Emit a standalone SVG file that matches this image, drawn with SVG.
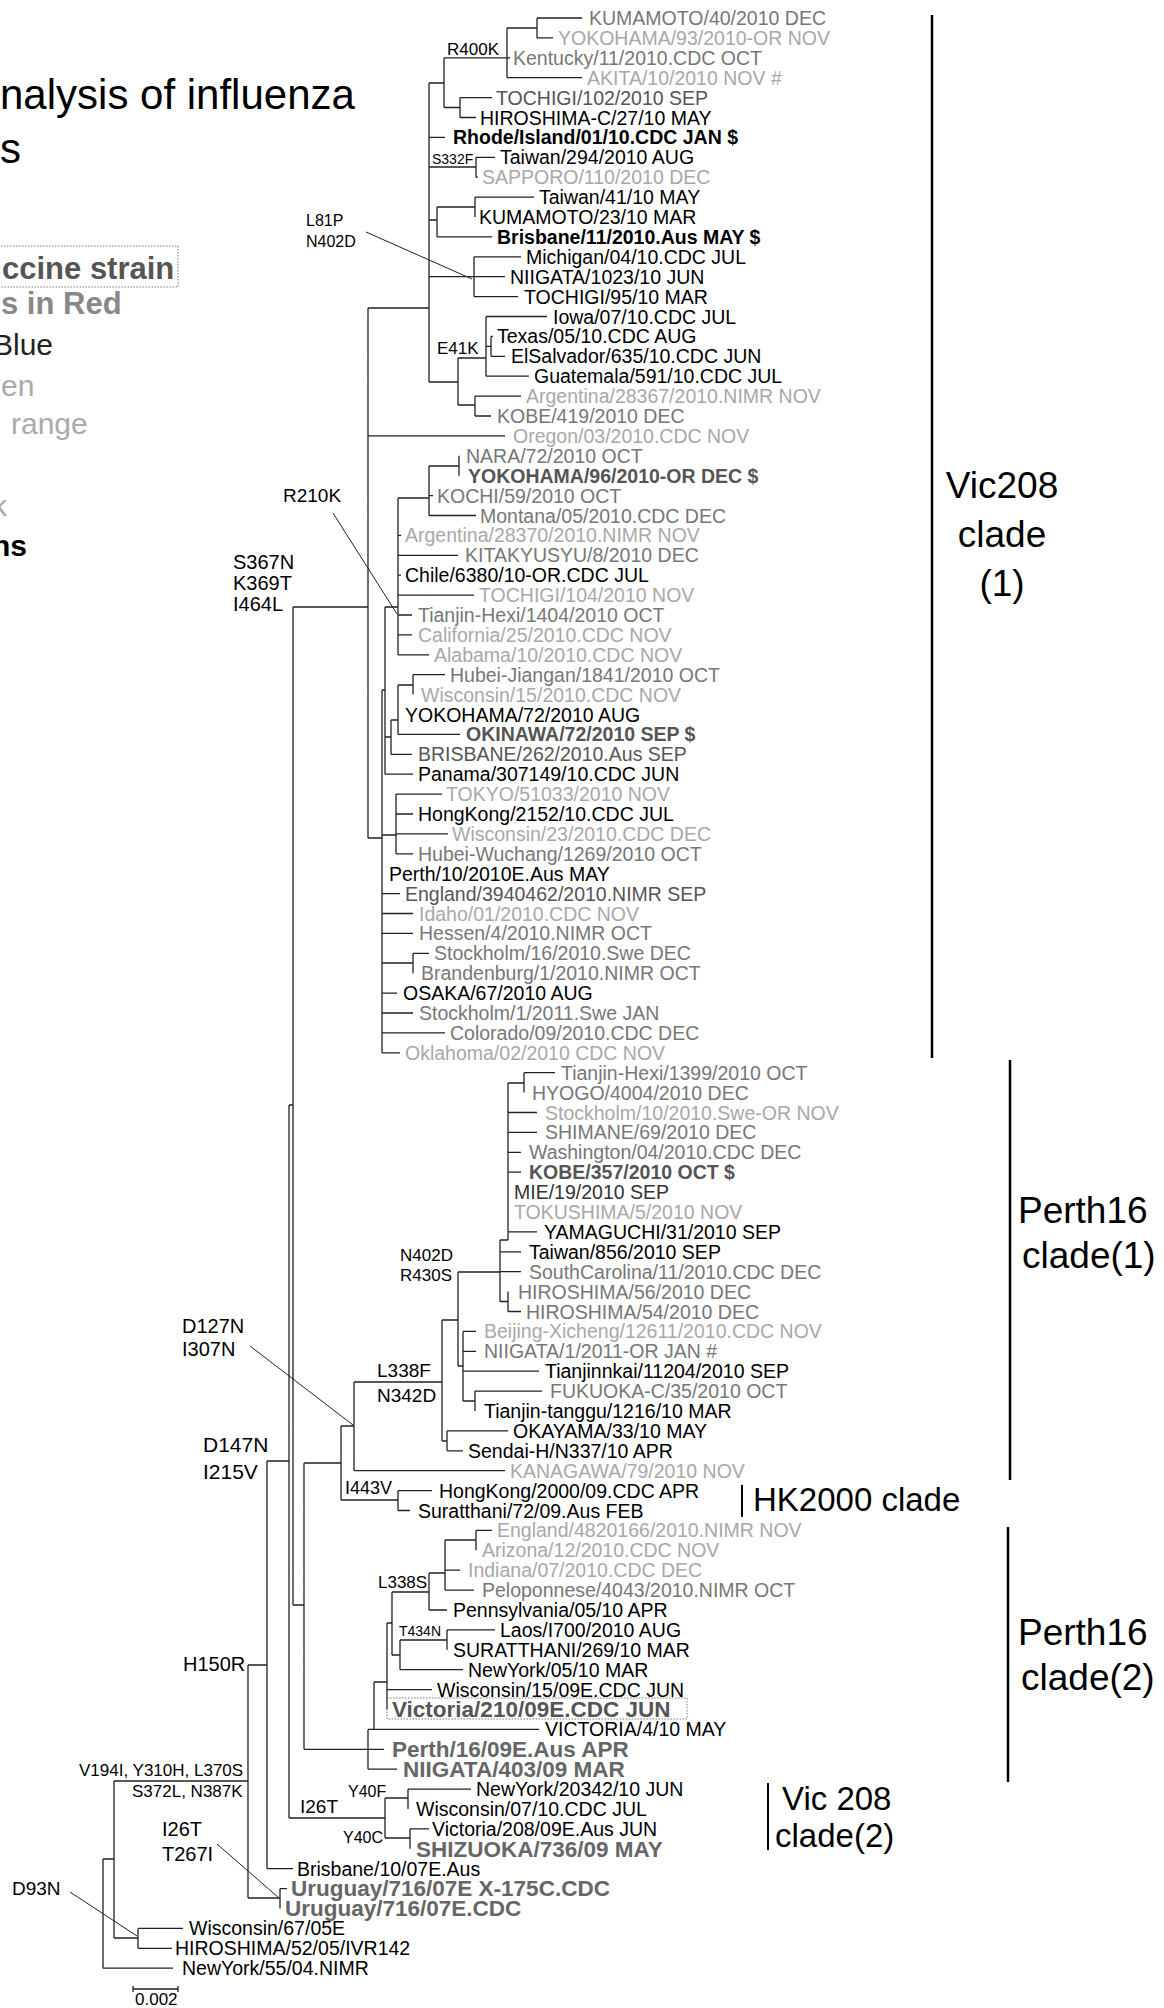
<svg xmlns="http://www.w3.org/2000/svg" width="1164" height="2008" viewBox="0 0 1164 2008">
<style>
text{font-family:"Liberation Sans",Arial,sans-serif}
.lf{font-size:19.5px;fill:#000}
.m{fill:#777}
.l{fill:#a8a8a8}
.d{fill:#555}
.bd{font-weight:bold}
.rb{font-size:22.5px;font-weight:bold;fill:#666}
.mu{fill:#000}
.cl{fill:#000;font-size:37px}
.br{fill:none;stroke:#222;stroke-width:1.3}
.ld{fill:none;stroke:#222;stroke-width:1}
.bar{stroke:#000;stroke-width:2.5}
.box{fill:none;stroke:#777;stroke-width:1;stroke-dasharray:1.5 1.5}
</style>
<rect width="1164" height="2008" fill="#fff"/>
<g id="title">
<text x="0" y="109" font-size="42">nalysis of influenza</text>
<text x="0" y="163" font-size="42">s</text>
</g>
<g id="legend">
<rect class="box" x="-2" y="246" width="180" height="41"/>
<text x="2" y="279" font-size="31" font-weight="bold" fill="#555">ccine strain</text>
<text x="1" y="314" font-size="31" font-weight="bold" fill="#888">s in Red</text>
<text x="-7" y="355" font-size="30" fill="#222">Blue</text>
<text x="1" y="396" font-size="30" fill="#aaa">en</text>
<text x="11" y="434" font-size="30" fill="#aaa">range</text>
<text x="-8" y="516" font-size="30" fill="#aaa">k</text>
<text x="-8" y="556" font-size="30" font-weight="bold" fill="#000">ns</text>
</g>
<g id="branches">
<path class="br" d="M537 18V37.9M537 18H582M537 37.9H553M507 28H537
M507 28V77.7M507 57.8H510M507 77.7H582M444 57.8H507
M460 97.6V117.5M460 97.6H492M460 117.5H476M444 107.5H460
M444 57.8V107.5M429 83H444
M429 83V382M429 137.4H445M429 167H476M429 220H437M429 276.7H474M429 382H458
M476 157.3V177.2M476 157.3H495M476 177.2H478
M475 197.1V217M475 197.1H534M437 207H475
M437 207V236.9M437 236.9H492
M474 256.8V296.6M474 256.8H521M474 276.7H505M474 296.6H518
M486 316.5V376.2M486 316.5H547M486 346.4H491M486 376.2H529M458 358H486
M491 336.4V356.3M491 336.4H493M491 356.3H505
M475 396.1V416M475 396.1H521M475 416H491M458 405H475
M458 358V405
M368 308V838M368 308H429M368 435.9H505M368 838H382
M293 607V1605M293 607H368M293 1605H304
M459 455.8V475.7M429 466H459
M429 466V515.5M429 495.6H433M429 515.5H476M398 498H429
M398 498V654.8M398 535.4H401M398 555.3H458M398 575.2H401M398 595.1H474M398 615H412M398 634.9H412M398 654.8H429M385 607H398
M385 607V774.2M385 737H391M385 774.2H413M382 690H385
M413 674.7V694.6M413 674.7H445M398 685H413
M398 685V734.4M398 734.4H460M391 720H398
M391 720V754.3M391 754.3H412
M382 690V1052.8M382 835H396M382 893.6H400M382 913.5H413M382 933.4H413M382 963H413M382 993.1H397M382 1013H413M382 1032.9H445M382 1052.8H400
M396 794.1V853.8M396 794.1H442M396 814H413M396 833.9H448M396 853.8H413
M413 953.3V973.2M413 953.3H429
M524 1072.7V1092.6M524 1072.7H555M508 1083H524
M508 1083V1240M508 1112.5H537M508 1132.4H537M508 1152.3H521M508 1172.2H521M508 1231.9H537M500 1240H508
M500 1240V1301.5M500 1251.8H521M500 1271.7H521M500 1301.5H508M458 1272H500
M508 1291.6V1311.5M508 1311.5H521
M458 1272V1366M442 1320H458
M463 1331.4V1401M463 1331.4H476M463 1351.3H476M463 1371.2H539M463 1401H475M458 1366H463
M475 1391.1V1411M475 1391.1H542
M447 1430.9V1450.8M447 1430.9H508M447 1450.8H463M442 1441H447
M442 1320V1441M354 1382H442
M354 1382V1470.7M354 1470.7H505M341 1426H354
M398 1490.6V1510.5M398 1490.6H432M398 1510.5H410M341 1500H398
M341 1426V1500M304 1463H341
M304 1463V1749.3M304 1749.3H384
M476 1530.4V1550.3M476 1530.4H492M445 1540H476
M445 1540V1590.1M445 1570.2H460M445 1590.1H474M429 1573H445
M429 1573V1610M429 1610H447M392 1592H429
M447 1629.9V1649.8M447 1629.9H495M400 1640H447
M400 1640V1669.7M400 1669.7H463M392 1655H400
M392 1592V1655M387 1623H392
M387 1623V1709.5M387 1689.6H432M374 1682H387
M374 1682V1729.4M368 1729.4H539
M368 1729.4V1769.2M368 1769.2H397
M408 1789.1V1809M408 1789.1H471M385 1798H408
M410 1828.9V1848.8M410 1828.9H429M385 1838H410
M385 1798V1838M289 1818H385
M289 1105V1818M289 1105H293
M267 1461V1868.7M267 1461H289M267 1868.7H293
M280 1888.6V1908.5M280 1888.6H287
M248 1665V1898M248 1665H267M248 1898H280
M138 1928.4V1948.3M138 1928.4H183M138 1948.3H172
M114 1781V1938M114 1781H248M114 1938H138
M103 1859V1968.2M103 1859H114M103 1968.2H173"/>
<path class="ld" d="M366 232L472 279M333 513L397 614M250 1346L353 1425M217 1844L279 1898M70 1892L137 1936"/>
<rect class="box" x="387" y="1698" width="300" height="21"/>
<path class="br" d="M133 1989H178M133 1986V1992M178 1986V1992"/>
</g>
<g id="mutations" class="mu">
<text x="447" y="55" font-size="17">R400K</text>
<text x="432" y="164" font-size="14">S332F</text>
<text x="306" y="226" font-size="16">L81P</text>
<text x="306" y="247" font-size="16">N402D</text>
<text x="437" y="354" font-size="17">E41K</text>
<text x="283" y="502" font-size="19">R210K</text>
<text x="233" y="569" font-size="20">S367N</text>
<text x="233" y="590" font-size="20">K369T</text>
<text x="233" y="611" font-size="20">I464L</text>
<text x="400" y="1261" font-size="17">N402D</text>
<text x="400" y="1281" font-size="17">R430S</text>
<text x="182" y="1333" font-size="20">D127N</text>
<text x="182" y="1356" font-size="20">I307N</text>
<text x="377" y="1377" font-size="19">L338F</text>
<text x="377" y="1402" font-size="19">N342D</text>
<text x="203" y="1452" font-size="21">D147N</text>
<text x="203" y="1479" font-size="21">I215V</text>
<text x="345" y="1494" font-size="18">I443V</text>
<text x="378" y="1588" font-size="17">L338S</text>
<text x="399" y="1636" font-size="14">T434N</text>
<text x="183" y="1671" font-size="20">H150R</text>
<text x="79" y="1776" font-size="17">V194I, Y310H, L370S</text>
<text x="132" y="1797" font-size="17">S372L, N387K</text>
<text x="348" y="1797" font-size="16">Y40F</text>
<text x="300" y="1813" font-size="19">I26T</text>
<text x="343" y="1843" font-size="16">Y40C</text>
<text x="162" y="1836" font-size="20">I26T</text>
<text x="162" y="1861" font-size="20">T267I</text>
<text x="12" y="1895" font-size="19">D93N</text>
<text x="135" y="2005" font-size="17">0.002</text>
</g>
<g id="clades">
<line class="bar" x1="932" y1="15" x2="932" y2="1058"/>
<text class="cl" x="1002" y="498" text-anchor="middle">Vic208</text>
<text class="cl" x="1002" y="547" text-anchor="middle">clade</text>
<text class="cl" x="1002" y="596" text-anchor="middle">(1)</text>
<line class="bar" x1="1010" y1="1060" x2="1010" y2="1480"/>
<text class="cl" x="1018" y="1223">Perth16</text>
<text class="cl" x="1022" y="1268">clade(1)</text>
<line class="bar" x1="742" y1="1485" x2="742" y2="1517" style="stroke-width:2"/>
<text x="753" y="1511" font-size="33">HK2000 clade</text>
<line class="bar" x1="1008" y1="1527" x2="1008" y2="1782"/>
<text class="cl" x="1018" y="1645">Perth16</text>
<text class="cl" x="1021" y="1690">clade(2)</text>
<line class="bar" x1="768" y1="1783" x2="768" y2="1850" style="stroke-width:2"/>
<text x="782" y="1810" font-size="33">Vic 208</text>
<text x="775" y="1847" font-size="33">clade(2)</text>
</g>
<g id="leaves" class="lf">
<g id="n0"><text x="589" y="25" class="m">KUMAMOTO/40/2010 DEC</text></g>
<g id="n1"><text x="558" y="44.9" class="l">YOKOHAMA/93/2010-OR NOV</text></g>
<g id="n2"><text x="513" y="64.8" class="m">Kentucky/11/2010.CDC OCT</text></g>
<g id="n3"><text x="587" y="84.7" class="l">AKITA/10/2010 NOV #</text></g>
<g id="n4"><text x="496" y="104.6" class="d">TOCHIGI/102/2010 SEP</text></g>
<g id="n5"><text x="480" y="124.5">HIROSHIMA-C/27/10 MAY</text></g>
<g id="n6"><text x="453" y="144.4" class="bd">Rhode/Island/01/10.CDC JAN $</text></g>
<g id="n7"><text x="500" y="164.3">Taiwan/294/2010 AUG</text></g>
<g id="n8"><text x="482" y="184.2" class="l">SAPPORO/110/2010 DEC</text></g>
<g id="n9"><text x="539" y="204.1">Taiwan/41/10 MAY</text></g>
<g id="n10"><text x="479" y="224">KUMAMOTO/23/10 MAR</text></g>
<g id="n11"><text x="497" y="243.9" class="bd">Brisbane/11/2010.Aus MAY $</text></g>
<g id="n12"><text x="526" y="263.8">Michigan/04/10.CDC JUL</text></g>
<g id="n13"><text x="510" y="283.7">NIIGATA/1023/10 JUN</text></g>
<g id="n14"><text x="524" y="303.6">TOCHIGI/95/10 MAR</text></g>
<g id="n15"><text x="553" y="323.5">Iowa/07/10.CDC JUL</text></g>
<g id="n16"><text x="497" y="343.4">Texas/05/10.CDC AUG</text></g>
<g id="n17"><text x="511" y="363.3">ElSalvador/635/10.CDC JUN</text></g>
<g id="n18"><text x="534" y="383.2">Guatemala/591/10.CDC JUL</text></g>
<g id="n19"><text x="526" y="403.1" class="l">Argentina/28367/2010.NIMR NOV</text></g>
<g id="n20"><text x="497" y="423" class="m">KOBE/419/2010 DEC</text></g>
<g id="n21"><text x="513" y="442.9" class="l">Oregon/03/2010.CDC NOV</text></g>
<g id="n22"><text x="466" y="462.8" class="m">NARA/72/2010 OCT</text></g>
<g id="n23"><text x="468" y="482.7" class="d bd">YOKOHAMA/96/2010-OR DEC $</text></g>
<g id="n24"><text x="437" y="502.6" class="m">KOCHI/59/2010 OCT</text></g>
<g id="n25"><text x="480" y="522.5" class="m">Montana/05/2010.CDC DEC</text></g>
<g id="n26"><text x="405" y="542.4" class="l">Argentina/28370/2010.NIMR NOV</text></g>
<g id="n27"><text x="465" y="562.3" class="m">KITAKYUSYU/8/2010 DEC</text></g>
<g id="n28"><text x="405" y="582.2">Chile/6380/10-OR.CDC JUL</text></g>
<g id="n29"><text x="479" y="602.1" class="l">TOCHIGI/104/2010 NOV</text></g>
<g id="n30"><text x="418" y="622" class="m">Tianjin-Hexi/1404/2010 OCT</text></g>
<g id="n31"><text x="418" y="641.9" class="l">California/25/2010.CDC NOV</text></g>
<g id="n32"><text x="434" y="661.8" class="l">Alabama/10/2010.CDC NOV</text></g>
<g id="n33"><text x="450" y="681.7" class="m">Hubei-Jiangan/1841/2010 OCT</text></g>
<g id="n34"><text x="421" y="701.6" class="l">Wisconsin/15/2010.CDC NOV</text></g>
<g id="n35"><text x="405" y="721.5">YOKOHAMA/72/2010 AUG</text></g>
<g id="n36"><text x="466" y="741.4" class="d bd">OKINAWA/72/2010 SEP $</text></g>
<g id="n37"><text x="418" y="761.3" class="d">BRISBANE/262/2010.Aus SEP</text></g>
<g id="n38"><text x="418" y="781.2">Panama/307149/10.CDC JUN</text></g>
<g id="n39"><text x="446" y="801.1" class="l">TOKYO/51033/2010 NOV</text></g>
<g id="n40"><text x="418" y="821">HongKong/2152/10.CDC JUL</text></g>
<g id="n41"><text x="452" y="840.9" class="l">Wisconsin/23/2010.CDC DEC</text></g>
<g id="n42"><text x="418" y="860.8" class="m">Hubei-Wuchang/1269/2010 OCT</text></g>
<g id="n43"><text x="389" y="880.7">Perth/10/2010E.Aus MAY</text></g>
<g id="n44"><text x="405" y="900.6" class="d">England/3940462/2010.NIMR SEP</text></g>
<g id="n45"><text x="419" y="920.5" class="l">Idaho/01/2010.CDC NOV</text></g>
<g id="n46"><text x="419" y="940.4" class="m">Hessen/4/2010.NIMR OCT</text></g>
<g id="n47"><text x="434" y="960.3" class="m">Stockholm/16/2010.Swe DEC</text></g>
<g id="n48"><text x="421" y="980.2" class="m">Brandenburg/1/2010.NIMR OCT</text></g>
<g id="n49"><text x="403" y="1000.1">OSAKA/67/2010 AUG</text></g>
<g id="n50"><text x="419" y="1020" class="m">Stockholm/1/2011.Swe JAN</text></g>
<g id="n51"><text x="450" y="1039.9" class="m">Colorado/09/2010.CDC DEC</text></g>
<g id="n52"><text x="405" y="1059.8" class="l">Oklahoma/02/2010 CDC NOV</text></g>
<g id="n53"><text x="561" y="1079.7" class="m">Tianjin-Hexi/1399/2010 OCT</text></g>
<g id="n54"><text x="532" y="1099.6" class="m">HYOGO/4004/2010 DEC</text></g>
<g id="n55"><text x="545" y="1119.5" class="l">Stockholm/10/2010.Swe-OR NOV</text></g>
<g id="n56"><text x="545" y="1139.4" class="m">SHIMANE/69/2010 DEC</text></g>
<g id="n57"><text x="529" y="1159.3" class="m">Washington/04/2010.CDC DEC</text></g>
<g id="n58"><text x="529" y="1179.2" class="d bd">KOBE/357/2010 OCT $</text></g>
<g id="n59"><text x="514" y="1199.1" fill="#333">MIE/19/2010 SEP</text></g>
<g id="n60"><text x="514" y="1219" class="l">TOKUSHIMA/5/2010 NOV</text></g>
<g id="n61"><text x="544" y="1238.9">YAMAGUCHI/31/2010 SEP</text></g>
<g id="n62"><text x="529" y="1258.8">Taiwan/856/2010 SEP</text></g>
<g id="n63"><text x="529" y="1278.7" class="m">SouthCarolina/11/2010.CDC DEC</text></g>
<g id="n64"><text x="518" y="1298.6" class="m">HIROSHIMA/56/2010 DEC</text></g>
<g id="n65"><text x="526" y="1318.5" class="m">HIROSHIMA/54/2010 DEC</text></g>
<g id="n66"><text x="484" y="1338.4" class="l">Beijing-Xicheng/12611/2010.CDC NOV</text></g>
<g id="n67"><text x="484" y="1358.3" class="m">NIIGATA/1/2011-OR JAN #</text></g>
<g id="n68"><text x="545" y="1378.2">Tianjinnkai/11204/2010 SEP</text></g>
<g id="n69"><text x="550" y="1398.1" class="m">FUKUOKA-C/35/2010 OCT</text></g>
<g id="n70"><text x="484" y="1418">Tianjin-tanggu/1216/10 MAR</text></g>
<g id="n71"><text x="513" y="1437.9">OKAYAMA/33/10 MAY</text></g>
<g id="n72"><text x="468" y="1457.8">Sendai-H/N337/10 APR</text></g>
<g id="n73"><text x="510" y="1477.7" class="l">KANAGAWA/79/2010 NOV</text></g>
<g id="n74"><text x="439" y="1497.6">HongKong/2000/09.CDC APR</text></g>
<g id="n75"><text x="418" y="1517.5">Suratthani/72/09.Aus FEB</text></g>
<g id="n76"><text x="497" y="1537.4" class="l">England/4820166/2010.NIMR NOV</text></g>
<g id="n77"><text x="482" y="1557.3" class="l">Arizona/12/2010.CDC NOV</text></g>
<g id="n78"><text x="468" y="1577.2" class="l">Indiana/07/2010.CDC DEC</text></g>
<g id="n79"><text x="482" y="1597.1" class="m">Peloponnese/4043/2010.NIMR OCT</text></g>
<g id="n80"><text x="453" y="1617">Pennsylvania/05/10 APR</text></g>
<g id="n81"><text x="500" y="1636.9">Laos/I700/2010 AUG</text></g>
<g id="n82"><text x="453" y="1656.8">SURATTHANI/269/10 MAR</text></g>
<g id="n83"><text x="468" y="1676.7">NewYork/05/10 MAR</text></g>
<g id="n84"><text x="437" y="1696.6">Wisconsin/15/09E.CDC JUN</text></g>
<g id="n85"><text x="392" y="1717" class="rb" style="fill:#555">Victoria/210/09E.CDC JUN</text></g>
<g id="n86"><text x="545" y="1736.4">VICTORIA/4/10 MAY</text></g>
<g id="n87"><text x="392" y="1757" class="rb">Perth/16/09E.Aus APR</text></g>
<g id="n88"><text x="403" y="1777" class="rb">NIIGATA/403/09 MAR</text></g>
<g id="n89"><text x="476" y="1796.1">NewYork/20342/10 JUN</text></g>
<g id="n90"><text x="416" y="1816">Wisconsin/07/10.CDC JUL</text></g>
<g id="n91"><text x="432" y="1835.9">Victoria/208/09E.Aus JUN</text></g>
<g id="n92"><text x="416" y="1856.5" class="rb">SHIZUOKA/736/09 MAY</text></g>
<g id="n93"><text x="297" y="1875.7">Brisbane/10/07E.Aus</text></g>
<g id="n94"><text x="291" y="1896.3" class="rb">Uruguay/716/07E X-175C.CDC</text></g>
<g id="n95"><text x="285" y="1916" class="rb">Uruguay/716/07E.CDC</text></g>
<g id="n96"><text x="189" y="1935.4">Wisconsin/67/05E</text></g>
<g id="n97"><text x="175" y="1955.3">HIROSHIMA/52/05/IVR142</text></g>
<g id="n98"><text x="182" y="1975.2">NewYork/55/04.NIMR</text></g>
</g>
</svg>
